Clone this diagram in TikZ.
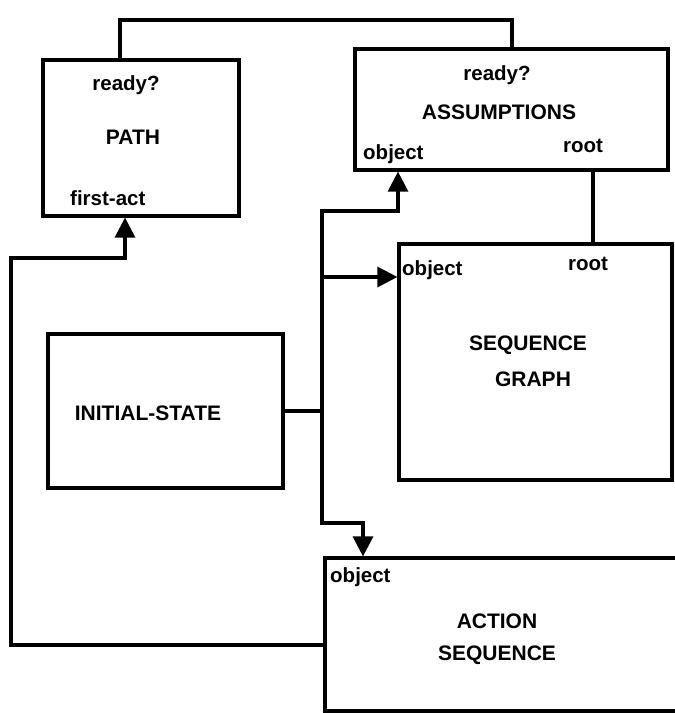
\documentclass[tikz,border=0pt]{standalone}
\usepackage{fontspec}
\setmainfont{Liberation Sans}
\usetikzlibrary{arrows.meta,calc}
\begin{document}
\begin{tikzpicture}[x=1pt,y=-1pt,
  box/.style={draw,line width=3.2pt,rectangle,inner sep=0pt},
  wire/.style={line width=3.2pt},
  arr/.style={wire,-{Triangle[length=20pt,width=20pt]}},
  titletext/.style={font=\fontsize{21}{24}\selectfont\bfseries,inner sep=0pt,anchor=base},
  lab/.style={font=\fontsize{20.5}{24}\selectfont\bfseries,inner sep=0pt,anchor=base west}]
\useasboundingbox (0,0) rectangle (675,713);
\clip (0,0) rectangle (675,713);
% boxes
\node[box,minimum width=196pt,minimum height=156pt] (path) at (141,138) {};
\node[box,minimum width=313pt,minimum height=121pt] (assump) at (511.5,109.5) {};
\node[box,minimum width=273pt,minimum height=236pt] (seq) at (535.5,362) {};
\node[box,minimum width=235pt,minimum height=154pt] (init) at (165.5,411) {};
\node[box,minimum width=375pt,minimum height=153pt] (act) at (512.5,634.5) {};
% labels
\node[lab,anchor=base] (pready) at (126,90) {ready?};
\node[titletext] (ptitle) at (133,144) {PATH};
\node[lab] (pfirst) at (70,205) {first-act};
\node[lab,anchor=base] (aready) at (497,80) {ready?};
\node[titletext] (atitle) at (499,119) {ASSUMPTIONS};
\node[lab] (aobj) at (363,159) {object};
\node[lab] (aroot) at (563,152) {root};
\node[lab] (sobj) at (402,275) {object};
\node[lab] (sroot) at (568,270) {root};
\node[titletext] (stitle1) at (528,350) {SEQUENCE};
\node[titletext] (stitle2) at (533,386) {GRAPH};
\node[titletext] (ititle) at (148,420) {INITIAL-STATE};
\node[lab] (cobj) at (330,582) {object};
\node[titletext] (ctitle1) at (497,628) {ACTION};
\node[titletext] (ctitle2) at (497,660) {SEQUENCE};
% connector points
\coordinate (t1) at (120,20);
\coordinate (t2) at (512,20);
\coordinate (r) at (593,200);
\coordinate (b1) at (322,211);
\coordinate (b2) at (322,277);
\coordinate (b3) at (322,523);
\coordinate (ao) at (398,211);
\coordinate (co) at (363,523);
\coordinate (l1) at (11,645);
\coordinate (l2) at (11,258);
\coordinate (l3) at (125,258);
% connectors
\draw[wire] (t1 |- path.north) -- (t1) -- (t2) -- (t2 |- assump.north);
\draw[wire] (r |- assump.south) -- (r |- seq.north);
\draw[wire] (init.east) -- (init.east -| b1);
\draw[wire,line cap=rect] (b1) -- (b3);
\draw[arr] (b1) -- (ao) -- (ao |- assump.south);
\draw[arr] (b2) -- (b2 -| seq.west);
\draw[arr] (b3) -- (co) -- (co |- act.north);
\draw[arr] (act.west |- l1) -- (l1) -- (l2) -- (l3) -- (l3 |- path.south);
\end{tikzpicture}
\end{document}
